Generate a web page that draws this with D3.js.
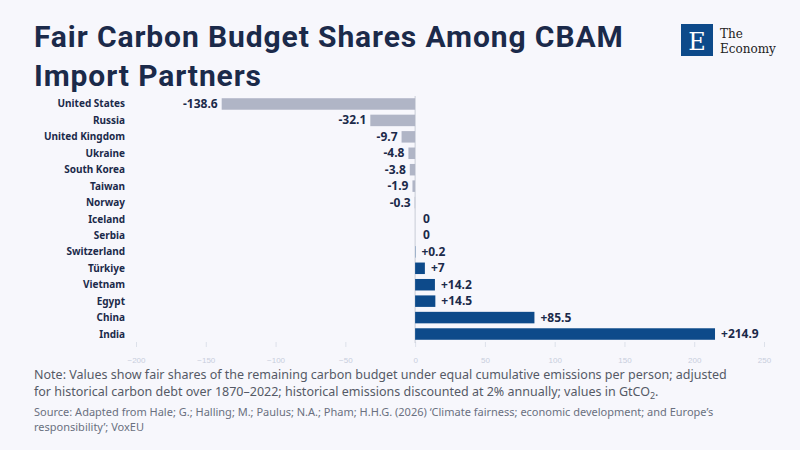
<!DOCTYPE html>
<html><head><meta charset="utf-8">
<script src="https://cdn.jsdelivr.net/npm/d3@7"></script>
<style>
body{margin:0;background:#f7f7fc;font-family:"Source Sans Pro","Noto Sans",sans-serif;}
</style></head><body>
<svg id="chart" width="800" height="450"></svg>
<script>
var countries = ["United States","Russia","United Kingdom","Ukraine","South Korea","Taiwan","Norway","Iceland","Serbia","Switzerland","Türkiye","Vietnam","Egypt","China","India"];
var values = [-138.6,-32.1,-9.7,-4.8,-3.8,-1.9,-0.3,0,0,0.2,7,14.2,14.5,85.5,214.9];
var labels = ["-138.6","-32.1","-9.7","-4.8","-3.8","-1.9","-0.3","0","0","+0.2","+7","+14.2","+14.5","+85.5","+214.9"];
var ticks = [-200,-150,-100,-50,0,50,100,150,200,250];

var svg = d3.select("#chart");
svg.append("rect").attr("width",800).attr("height",450).attr("fill","#f7f7fc");

svg.append("text").attr("x",34).attr("y",47).attr("fill","#1b2a4a")
  .style("font-family","Roboto").style("font-weight","bold").style("font-size","30px").style("letter-spacing","0.9px").text("Fair Carbon Budget Shares Among CBAM");
svg.append("text").attr("x",34).attr("y",86).attr("fill","#1b2a4a")
  .style("font-family","Roboto").style("font-weight","bold").style("font-size","30px").style("letter-spacing","0.9px").text("Import Partners");

// logo
svg.append("rect").attr("x",681).attr("y",24).attr("width",32).attr("height",32).attr("fill","#0d4a8a");
svg.append("text").attr("x",697).attr("y",50).attr("text-anchor","middle").attr("fill","#fff")
  .style("font-family","DejaVu Serif").style("font-size","24px").text("E");
svg.append("text").attr("x",720).attr("y",38).attr("fill","#222").style("font-family","DejaVu Serif").style("font-size","12px").text("The");
svg.append("text").attr("x",720).attr("y",53).attr("fill","#222").style("font-family","DejaVu Serif").style("font-size","12px").text("Economy");

var x = d3.scaleLinear().domain([-200,250]).range([136,764]);
var y = d3.scaleBand().domain(countries).range([93.3,344.7]).padding(0.3);

var ax = svg.append("g").attr("transform","translate(0,342)")
  .call(d3.axisBottom(x).tickValues(ticks).tickSize(5).tickFormat(d3.format("d")));
ax.select(".domain").remove();
ax.selectAll("line").attr("stroke","#dde1ea");
ax.selectAll("text").attr("fill","#c8cedc").style("font-size","8px").attr("y",15);

svg.append("line").attr("x1",x(0)).attr("x2",x(0)).attr("y1",96).attr("y2",343).attr("stroke","#c8ccd6");

svg.selectAll(".bar").data(countries).enter().append("rect")
  .attr("x",function(d,i){return x(Math.min(0,values[i]));})
  .attr("width",function(d,i){return Math.abs(x(values[i])-x(0));})
  .attr("y",function(d){return y(d);})
  .attr("height",y.bandwidth())
  .attr("fill",function(d,i){return values[i]<0?"#b0b5c6":"#0d4a8a";});

svg.selectAll(".lab").data(countries).enter().append("text")
  .attr("x",function(d,i){return values[i]<0?x(values[i])-4:x(values[i])+(values[i]>0?6:8);})
  .attr("y",function(d){return y(d)+y.bandwidth()/2+4;})
  .attr("text-anchor",function(d,i){return values[i]<0?"end":"start";})
  .attr("fill","#1b2a4a").style("font-size","12px").style("font-weight","bold")
  .text(function(d,i){return labels[i];});

svg.selectAll(".cat").data(countries).enter().append("text")
  .attr("x",125).attr("y",function(d){return y(d)+y.bandwidth()/2+3.5;})
  .attr("text-anchor","end").attr("fill","#1b2a4a").style("font-size","10px").style("font-weight","bold")
  .text(function(d){return d;});

var note = svg.append("text").attr("fill","#555a66").style("font-size","12.5px");
note.append("tspan").attr("x",34).attr("y",379).text("Note: Values show fair shares of the remaining carbon budget under equal cumulative emissions per person; adjusted");
var t2 = note.append("tspan").attr("x",34).attr("y",396).text("for historical carbon debt over 1870–2022; historical emissions discounted at 2% annually; values in GtCO");
t2.append("tspan").attr("dy",3).style("font-size","9px").text("2");
t2.append("tspan").attr("dy",-3).text(".");

var src = svg.append("text").attr("fill","#6a7080").style("font-size","11px");
src.append("tspan").attr("x",34).attr("y",416).text("Source: Adapted from Hale; G.; Halling; M.; Paulus; N.A.; Pham; H.H.G. (2026) ‘Climate fairness; economic development; and Europe’s");
src.append("tspan").attr("x",34).attr("y",431).text("responsibility’; VoxEU");
</script></body></html>
